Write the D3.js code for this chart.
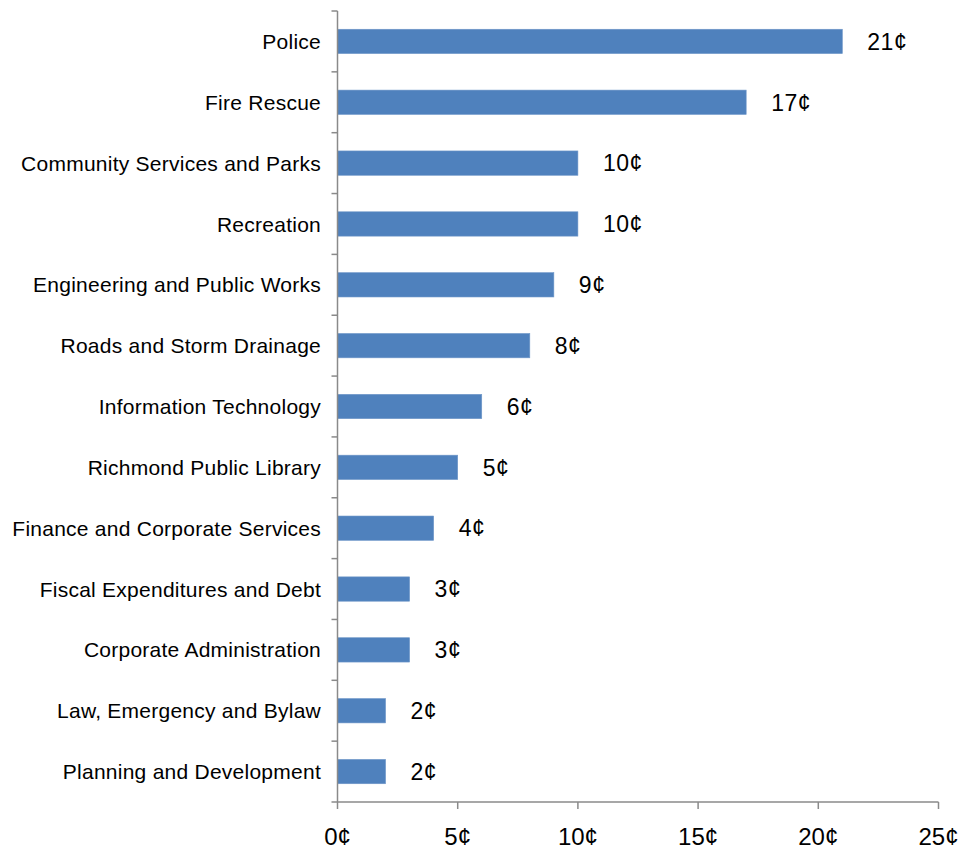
<!DOCTYPE html>
<html>
<head>
<meta charset="utf-8">
<script src="https://cdn.jsdelivr.net/npm/d3@7"></script>
<style>
  html, body { margin: 0; padding: 0; background: #fff; }
  svg { display: block; font-family: "Liberation Sans", Arial, sans-serif; }
</style>
</head>
<body>
<svg id="chart" width="961" height="851"></svg>
<script>
// Budget share per service area, in cents of each tax dollar
const categories = [
  "Police",
  "Fire Rescue",
  "Community Services and Parks",
  "Recreation",
  "Engineering and Public Works",
  "Roads and Storm Drainage",
  "Information Technology",
  "Richmond Public Library",
  "Finance and Corporate Services",
  "Fiscal Expenditures and Debt",
  "Corporate Administration",
  "Law, Emergency and Bylaw",
  "Planning and Development"
];
const cents = [21, 17, 10, 10, 9, 8, 6, 5, 4, 3, 3, 2, 2];
const xTicks = [0, 5, 10, 15, 20, 25];

const svg = d3.select("#chart");
const axisColor = "#8a8a8a";
const barColor = "#4f81bd";

const x = d3.scaleLinear().domain([0, 25]).range([337.5, 938.5]);
const y = d3.scaleBand().domain(categories).range([11, 802]).paddingInner(0.6).paddingOuter(0.3);

const step = y.step();
const y0 = y.range()[0], y1 = y.range()[1];

// Bars
svg.append("g").selectAll("rect")
  .data(categories)
  .join("rect")
  .attr("x", x(0))
  .attr("y", d => y(d))
  .attr("width", (d, i) => x(cents[i]) - x(0))
  .attr("height", y.bandwidth())
  .attr("fill", barColor)
  .attr("stroke", "#6f97c8")
  .attr("stroke-width", 0.6);

// Value labels
svg.append("g").selectAll("text")
  .data(categories)
  .join("text")
  .attr("x", (d, i) => x(cents[i]) + 25)
  .attr("y", d => y(d) + y.bandwidth() / 2)
  .attr("dy", "0.36em")
  .attr("font-size", 23)
  .attr("letter-spacing", 0.5)
  .attr("fill", "#000")
  .text((d, i) => cents[i] + "\u00a2");

// Category labels
svg.append("g").selectAll("text")
  .data(categories)
  .join("text")
  .attr("x", 321)
  .attr("y", d => y(d) + y.bandwidth() / 2)
  .attr("dy", "0.36em")
  .attr("text-anchor", "end")
  .attr("font-size", 21)
  .attr("letter-spacing", 0.25)
  .attr("fill", "#000")
  .text(d => d);

// Vertical axis with ticks at category boundaries
const yAxis = svg.append("g").attr("stroke", axisColor).attr("stroke-width", 1.5);
yAxis.append("line")
  .attr("x1", x(0)).attr("x2", x(0))
  .attr("y1", y0).attr("y2", y1);
yAxis.selectAll("line.tick")
  .data(d3.range(categories.length + 1))
  .join("line")
  .attr("class", "tick")
  .attr("x1", x(0) - 6).attr("x2", x(0))
  .attr("y1", i => y0 + i * step)
  .attr("y2", i => y0 + i * step);

// Horizontal axis
const xAxis = svg.append("g").attr("stroke", axisColor).attr("stroke-width", 1.5);
xAxis.append("line")
  .attr("x1", x(0)).attr("x2", x(25))
  .attr("y1", y1).attr("y2", y1);
xAxis.selectAll("line.tick")
  .data(xTicks)
  .join("line")
  .attr("class", "tick")
  .attr("x1", d => x(d)).attr("x2", d => x(d))
  .attr("y1", y1).attr("y2", y1 + 7);

svg.append("g").selectAll("text")
  .data(xTicks)
  .join("text")
  .attr("x", d => x(d))
  .attr("y", 845)
  .attr("text-anchor", "middle")
  .attr("font-size", 24)
  .attr("fill", "#000")
  .text(d => d + "\u00a2");
</script>
</body>
</html>
